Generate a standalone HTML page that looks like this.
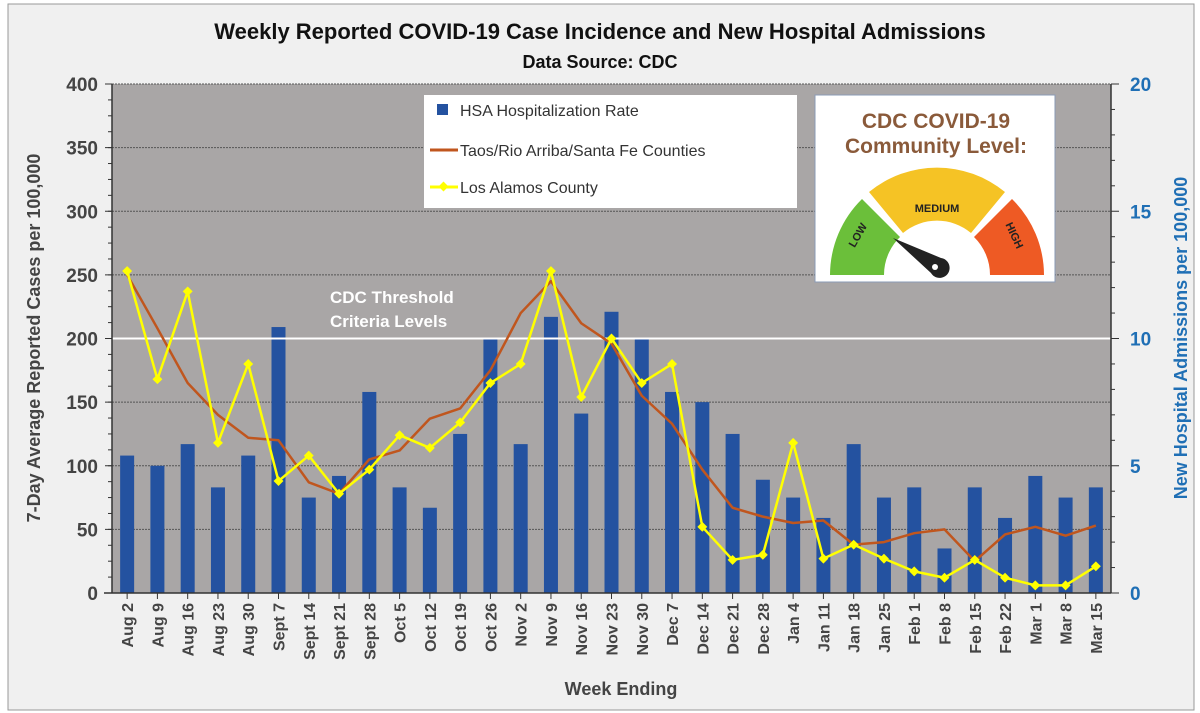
<!DOCTYPE html>
<html><head><meta charset="utf-8"><style>
body{margin:0;background:#fff;}
svg{display:block;font-family:"Liberation Sans",sans-serif;}
</style></head><body>
<svg id="s" width="1200" height="713" xmlns="http://www.w3.org/2000/svg">
<rect x="0" y="0" width="1200" height="713" fill="#fff"/>
<rect x="8" y="4" width="1186" height="706" fill="#f0f0f0" stroke="#999" stroke-width="1"/>
<text x="600" y="39" text-anchor="middle" font-size="22" font-weight="bold" fill="#111">Weekly Reported COVID-19 Case Incidence and New Hospital Admissions</text>
<text x="600" y="68" text-anchor="middle" font-size="18" font-weight="bold" fill="#111">Data Source: CDC</text>
<rect x="112" y="84" width="999" height="509" fill="#a9a6a6"/>
<g id="grid"></g>
<g id="bars"></g>
<line x1="112" y1="338.5" x2="1111" y2="338.5" stroke="#fff" stroke-width="2"/>
<text x="330" y="303" font-size="17" font-weight="bold" fill="#fff">CDC Threshold</text>
<text x="330" y="327" font-size="17" font-weight="bold" fill="#fff">Criteria Levels</text>
<g id="lines"></g>
<g id="axes"></g>
<text transform="translate(40,338) rotate(-90)" text-anchor="middle" font-size="18" font-weight="bold" fill="#444">7-Day Average Reported Cases per 100,000</text>
<text transform="translate(1187,338) rotate(-90)" text-anchor="middle" font-size="18" font-weight="bold" fill="#1f6fb5">New Hospital Admissions per 100,000</text>
<text x="621" y="695" text-anchor="middle" font-size="18" font-weight="bold" fill="#444">Week Ending</text>
<rect x="424" y="95" width="373" height="113" fill="#fff"/>
<rect x="437" y="104" width="11" height="11" fill="#2452a0"/>
<text x="460" y="116" font-size="16" fill="#333">HSA Hospitalization Rate</text>
<line x1="430" y1="150" x2="458" y2="150" stroke="#c0561e" stroke-width="3"/>
<text x="460" y="156" font-size="16" fill="#333">Taos/Rio Arriba/Santa Fe Counties</text>
<line x1="430" y1="187" x2="458" y2="187" stroke="#ffff00" stroke-width="3"/>
<rect x="440" y="183" width="7" height="7" fill="#ffff00" transform="rotate(45 443.5 186.5)"/>
<text x="460" y="193" font-size="16" fill="#333">Los Alamos County</text>
<rect x="815" y="95" width="240" height="187" fill="#fff" stroke="#8a9bb5"/>
<text x="936" y="128" text-anchor="middle" font-size="21" font-weight="bold" fill="#8a5a3a">CDC COVID-19</text>
<text x="936" y="153" text-anchor="middle" font-size="21" font-weight="bold" fill="#8a5a3a">Community Level:</text>
<g transform="translate(937,275)">
<path d="M-107,0 A107,107 0 0 1 -75,-76 L-37,-38 A53,53 0 0 0 -53,0 Z" fill="#6bbf3a"/>
<path d="M-68,-83 A107,107 0 0 1 68,-83 L34,-42 A53,53 0 0 0 -34,-42 Z" fill="#f5c325"/>
<path d="M75,-76 A107,107 0 0 1 107,0 L53,0 A53,53 0 0 0 37,-38 Z" fill="#ee5a24"/>
<text x="0" y="-63" text-anchor="middle" font-size="11" font-weight="bold" fill="#222">MEDIUM</text>
<text transform="translate(-76,-38) rotate(-60)" text-anchor="middle" font-size="11" font-weight="bold" fill="#222">LOW</text>
<text transform="translate(74,-38) rotate(65)" text-anchor="middle" font-size="11" font-weight="bold" fill="#222">HIGH</text>
<path d="M-44,-37 L4,-17 A10,10 0 1 1 -6,-2 Z" fill="#222"/>
<circle cx="-2" cy="-8" r="3" fill="#fff"/>
</g>
</svg>
<script>
var NS="http://www.w3.org/2000/svg";
function el(p,t,a,txt){var e=document.createElementNS(NS,t);for(var k in a)e.setAttribute(k,a[k]);if(txt!==undefined)e.textContent=txt;document.getElementById(p).appendChild(e);return e;}
var L=112,T=84,B=593,S=509/400,dx=999/33;
function y(v){return B-v*S;}
function cx(i){return L+dx*(i+0.5);}
var labs=["Aug 2","Aug 9","Aug 16","Aug 23","Aug 30","Sept 7","Sept 14","Sept 21","Sept 28","Oct 5","Oct 12","Oct 19","Oct 26","Nov 2","Nov 9","Nov 16","Nov 23","Nov 30","Dec 7","Dec 14","Dec 21","Dec 28","Jan 4","Jan 11","Jan 18","Jan 25","Feb 1","Feb 8","Feb 15","Feb 22","Mar 1","Mar 8","Mar 15"];
var bars=[108,100,117,83,108,209,75,92,158,83,67,125,200,117,217,141,221,200,158,150,125,89,75,59,117,75,83,35,83,59,92,75,83];
var org=[250,208,165,140,122,120,87,78,105,112,137,145,175,220,245,212,196,155,133,97,67,60,55,57,38,40,47,50,25,46,52,45,53];
var yel=[253,168,237,118,180,88,108,78,97,124,114,134,165,180,253,154,200,165,180,52,26,30,118,27,38,27,17,12,26,12,6,6,21];
for(var v=50;v<=400;v+=50)el("grid","line",{x1:L,x2:1111,y1:y(v),y2:y(v),stroke:"#555","stroke-width":1,"stroke-dasharray":"2,1"});
bars.forEach(function(b,i){el("bars","rect",{x:cx(i)-7,y:y(b),width:14,height:b*S,fill:"#2452a0"});});
function pl(d,c,w){el("lines","polyline",{points:d.map(function(v,i){return cx(i)+","+y(v)}).join(" "),fill:"none",stroke:c,"stroke-width":w,"stroke-linejoin":"round"});}
pl(org,"#c0561e",2.5);pl(yel,"#ffff00",2.5);
yel.forEach(function(v,i){el("lines","rect",{x:cx(i)-3.5,y:y(v)-3.5,width:7,height:7,fill:"#ffff00",transform:"rotate(45 "+cx(i)+" "+y(v)+")"});});
el("axes","line",{x1:L,x2:L,y1:T,y2:B,stroke:"#333","stroke-width":1.5});
el("axes","line",{x1:1111,x2:1111,y1:T,y2:B,stroke:"#333","stroke-width":1.5});
el("axes","line",{x1:L-8,x2:1111,y1:B,y2:B,stroke:"#333","stroke-width":1.5});
for(var v=0;v<=400;v+=50){el("axes","line",{x1:L-7,x2:L,y1:y(v),y2:y(v),stroke:"#333"});el("axes","text",{x:L-14,y:y(v)+7,"text-anchor":"end","font-size":19,"font-weight":"bold",fill:"#444"},v);}
for(var v=0;v<=400;v+=12.5)el("axes","line",{x1:L-4,x2:L,y1:y(v),y2:y(v),stroke:"#333"});
for(var v=0;v<=20;v+=1){var yy=B-v*509/20;el("axes","line",{x1:1111,x2:v%5==0?1119:1115,y1:yy,y2:yy,stroke:"#333"});if(v%5==0)el("axes","text",{x:1130,y:yy+7,"font-size":19,"font-weight":"bold",fill:"#1f6fb5"},v);}
labs.forEach(function(l,i){var x=cx(i);el("axes","line",{x1:x,x2:x,y1:B,y2:B+6,stroke:"#333"});el("axes","text",{transform:"translate("+(x+6)+","+(B+10)+") rotate(-90)","text-anchor":"end","font-size":16,"font-weight":"bold",fill:"#444"},l);});
</script>
</body></html>
